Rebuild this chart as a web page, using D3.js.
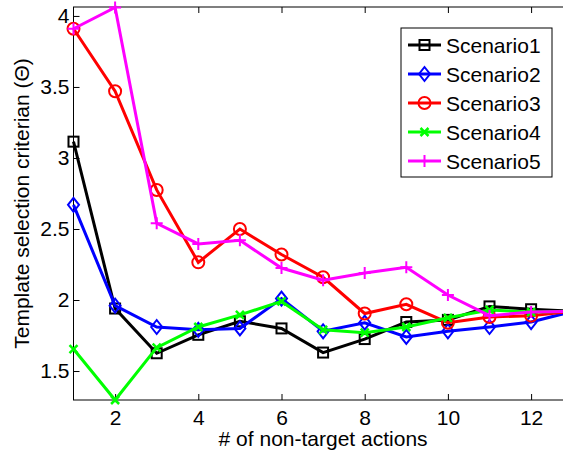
<!DOCTYPE html>
<html><head><meta charset="utf-8">
<script src="https://cdn.jsdelivr.net/npm/d3@7"></script>
<style>body{margin:0;background:#fff}svg{display:block}text{font-family:"Liberation Sans",Arial,sans-serif}</style>
</head><body>
<svg id="c" width="563" height="454"></svg>
<script>
const xValues = [1,2,3,4,5,6,7,8,9,10,11,12,13];
const seriesNames = ["Scenario1","Scenario2","Scenario3","Scenario4","Scenario5"];
const seriesColors = ["#000000","#0000ff","#ff0000","#00ff00","#ff00ff"];
const seriesMarkers = ["square","diamond","circle","x","plus"];
const scenario1 = [3.115,1.94,1.625,1.755,1.85,1.80,1.63,1.725,1.845,1.86,1.955,1.935,1.92];
const scenario2 = [2.67,1.96,1.81,1.79,1.80,2.01,1.78,1.84,1.74,1.78,1.81,1.845,1.92];
const scenario3 = [3.91,3.47,2.775,2.265,2.50,2.32,2.16,1.905,1.97,1.84,1.88,1.89,1.92];
const scenario4 = [1.655,1.296,1.665,1.81,1.895,1.99,1.79,1.77,1.81,1.875,1.93,1.915,1.92];
const scenario5 = [3.91,4.06,2.54,2.395,2.42,2.225,2.14,2.19,2.23,2.035,1.89,1.915,1.92];
const seriesValues = [scenario1,scenario2,scenario3,scenario4,scenario5];
const xTicks = [2,4,6,8,10,12];
const yTicks = [1.5,2,2.5,3,3.5,4];
const xLabel = "# of non-target actions";
const yLabel = "Template selection criterian (\u0398)";

const svg = d3.select("#c");
const L = 73.5, R = 572.7, T = 7, B = 400;
const x = d3.scaleLinear().domain([1,13]).range([L,R]);
const y = d3.scaleLinear().domain([1.296,4.063]).range([B,T]);

// frame
svg.append("rect").attr("x",L).attr("y",T).attr("width",R-L).attr("height",B-T)
  .attr("fill","none").attr("stroke","#000").attr("stroke-width",1);

// axes
const fs = 21;
const xAxis = svg.append("g").attr("transform",`translate(0,${B})`)
  .call(d3.axisBottom(x).tickValues(xTicks).tickSize(-6).tickPadding(10).tickFormat(d3.format("d")));
const xAxisTop = svg.append("g").attr("transform",`translate(0,${T})`)
  .call(d3.axisTop(x).tickValues(xTicks).tickSize(-6).tickFormat(""));
const yAxis = svg.append("g").attr("transform",`translate(${L},0)`)
  .call(d3.axisLeft(y).tickValues(yTicks).tickSize(-6).tickPadding(4).tickFormat(d=>String(d)));
[xAxis,xAxisTop,yAxis].forEach(g=>{
  g.select(".domain").remove();
  g.selectAll("line").attr("stroke","#000");
  g.selectAll("text").attr("font-size",fs).attr("fill","#000").attr("font-family","Liberation Sans, Arial, sans-serif");
});

svg.append("text").attr("x",(L+R)/2).attr("y",446).attr("text-anchor","middle")
  .attr("font-size",fs).text(xLabel);
svg.append("text").attr("transform",`translate(29,${(T+B)/2}) rotate(-90)`)
  .attr("text-anchor","middle").attr("font-size",fs).text(yLabel);

function drawMarker(g, type, cx, cy, color){
  const sw = 2;
  if(type==="square"){
    g.append("rect").attr("x",cx-5).attr("y",cy-5).attr("width",10).attr("height",10)
      .attr("fill","none").attr("stroke",color).attr("stroke-width",sw);
  } else if(type==="diamond"){
    g.append("path").attr("d",`M${cx},${cy-7}L${cx+5.5},${cy}L${cx},${cy+7}L${cx-5.5},${cy}Z`)
      .attr("fill","none").attr("stroke",color).attr("stroke-width",sw);
  } else if(type==="circle"){
    g.append("circle").attr("cx",cx).attr("cy",cy).attr("r",6)
      .attr("fill","none").attr("stroke",color).attr("stroke-width",sw);
  } else if(type==="x"){
    g.append("path").attr("d",`M${cx-4},${cy-4}L${cx+4},${cy+4}M${cx-4},${cy+4}L${cx+4},${cy-4}`)
      .attr("stroke",color).attr("stroke-width",sw+0.5);
  } else if(type==="plus"){
    g.append("path").attr("d",`M${cx-6},${cy}L${cx+6},${cy}M${cx},${cy-6}L${cx},${cy+6}`)
      .attr("stroke",color).attr("stroke-width",sw);
  }
}

const line = d3.line().x((d,i)=>x(xValues[i])).y(d=>y(d));
seriesValues.forEach((vals,si)=>{
  const g = svg.append("g");
  g.append("path").attr("d",line(vals)).attr("fill","none")
    .attr("stroke",seriesColors[si]).attr("stroke-width",3).attr("stroke-linejoin","miter");
  vals.forEach((v,i)=>drawMarker(g, seriesMarkers[si], x(xValues[i]), y(v), seriesColors[si]));
});

// legend
const lg = svg.append("g");
lg.append("rect").attr("x",401).attr("y",28).attr("width",151).attr("height",149)
  .attr("fill","#fff").attr("stroke","#000").attr("stroke-width",1);
seriesNames.forEach((n,i)=>{
  const ly = 45 + i*29;
  lg.append("line").attr("x1",408).attr("x2",441).attr("y1",ly).attr("y2",ly)
    .attr("stroke",seriesColors[i]).attr("stroke-width",3);
  drawMarker(lg, seriesMarkers[i], 424.5, ly, seriesColors[i]);
  lg.append("text").attr("x",446).attr("y",ly+7.5).attr("font-size",fs).text(n);
});
</script>
</body></html>
